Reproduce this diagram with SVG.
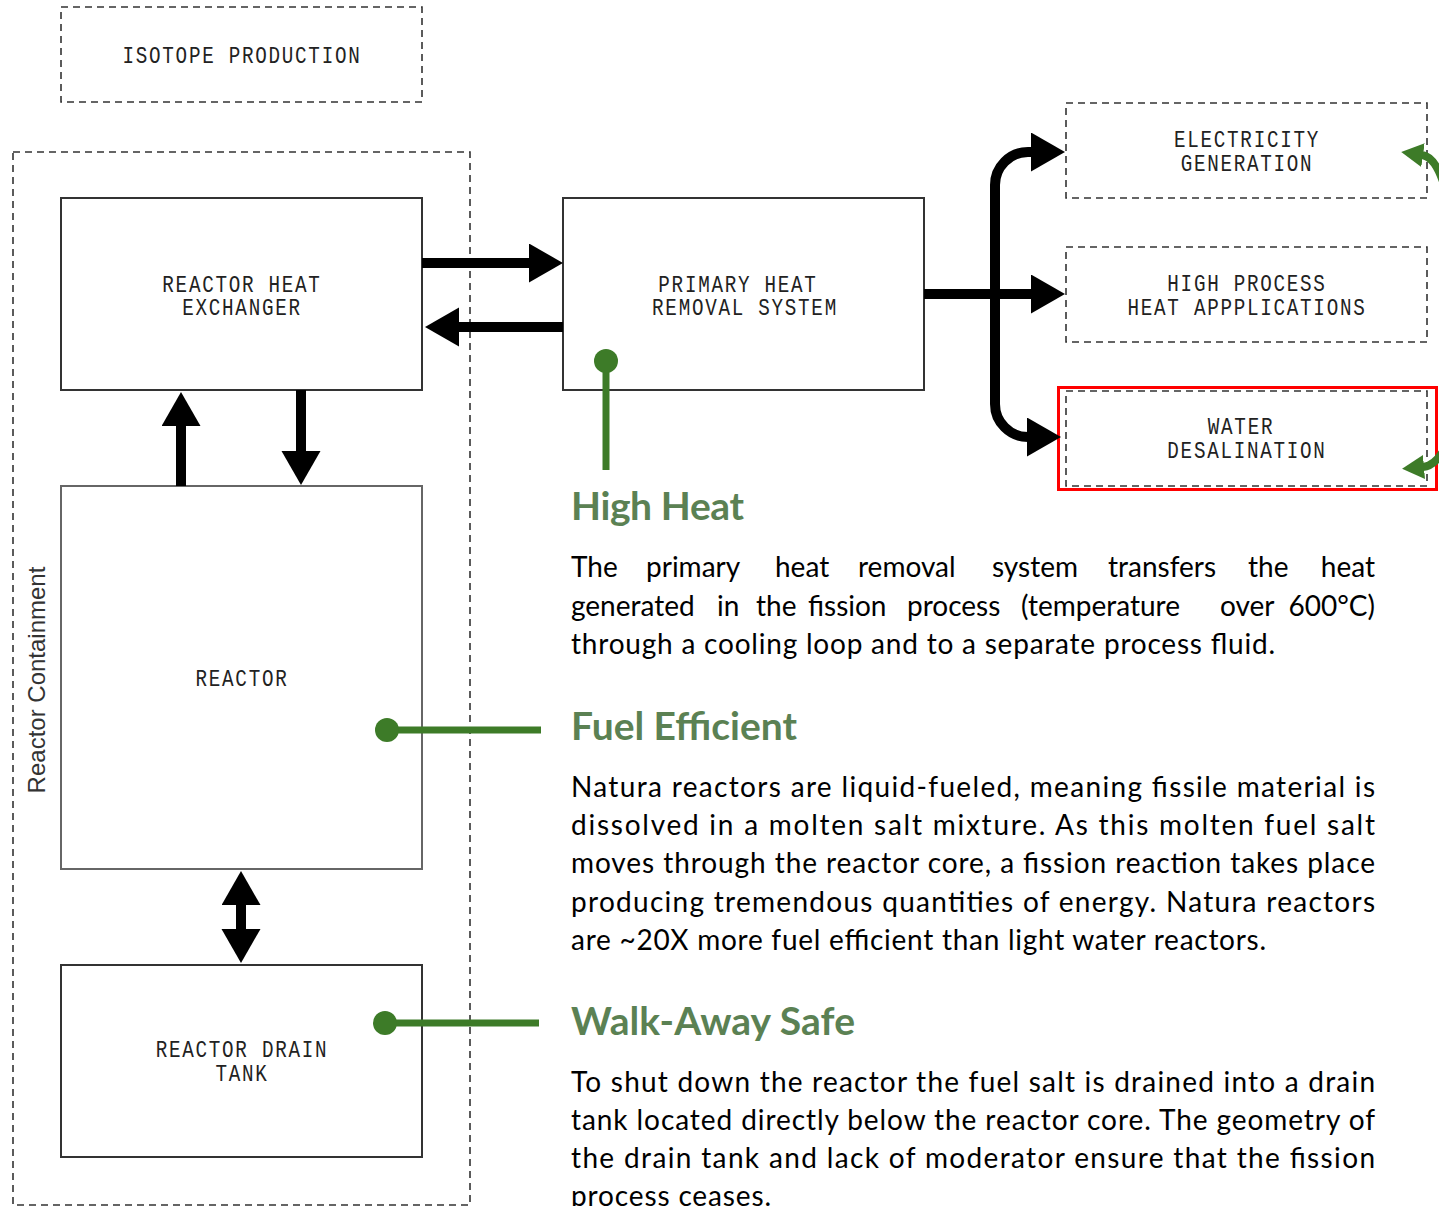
<svg xmlns="http://www.w3.org/2000/svg" width="1439" height="1206" viewBox="0 0 1439 1206">
<style>
.bg{fill:#fff}
.solid{fill:#fff;stroke:#333;stroke-width:2}
.solid2{fill:#fff;stroke:#666;stroke-width:2}
.dash{fill:none;stroke:#333;stroke-width:1.6;stroke-dasharray:7 5}
.lbl{font-family:"Liberation Mono","DejaVu Sans Mono",monospace;font-size:23.5px;letter-spacing:2.1px;fill:#222;text-anchor:middle}
.side{font-family:"Liberation Sans",Arial,sans-serif;font-size:24px;fill:#333;text-anchor:middle}
.conn{fill:none;stroke:#000;stroke-width:10}
.pin{fill:none;stroke:#3d7b28;stroke-width:7}
.dot{fill:#3d7b28}
.garr{fill:none;stroke:#3d7b28;stroke-width:8}
.hd{font-family:Lato,"Open Sans",sans-serif;font-weight:bold;font-size:39px;fill:#5b8153}
.body{font-family:Lato,"Open Sans",sans-serif;font-size:28px;fill:#000}
.end{text-anchor:end}
</style>
<defs>
<marker id="ah" markerUnits="userSpaceOnUse" markerWidth="36" markerHeight="40" refX="1" refY="19.5" orient="auto-start-reverse" viewBox="0 0 36 40">
<path d="M0,0 L34,19.5 L0,39 Z" fill="#000"/>
</marker>
<marker id="gh" markerUnits="userSpaceOnUse" markerWidth="24" markerHeight="26" refX="1" refY="12" orient="auto" viewBox="0 0 24 26">
<path d="M0,0 L22,12 L0,24 Z" fill="#3d7b28"/>
</marker>
</defs>
<rect class="bg" x="0" y="0" width="1439" height="1206"/>

<g id="isotope-production">
<rect class="dash" x="61" y="7" width="361" height="95"/>
<text class="lbl" transform="translate(242,62.5) scale(0.82,1)">ISOTOPE PRODUCTION</text>
</g>

<g id="reactor-containment">
<rect class="dash" x="13" y="152" width="457" height="1053"/>
<text class="side" transform="translate(45,680) rotate(-90)">Reactor Containment</text>
</g>

<g id="reactor-heat-exchanger">
<rect class="solid" x="61" y="198" width="361" height="192"/>
<text class="lbl" transform="translate(242,291.5) scale(0.82,1)">REACTOR HEAT</text>
<text class="lbl" transform="translate(242,315) scale(0.82,1)">EXCHANGER</text>
</g>

<g id="reactor">
<rect class="solid2" x="61" y="486" width="361" height="383"/>
<text class="lbl" transform="translate(242,686) scale(0.82,1)">REACTOR</text>
</g>

<g id="reactor-drain-tank">
<rect class="solid" x="61" y="965" width="361" height="192"/>
<text class="lbl" transform="translate(242,1057) scale(0.82,1)">REACTOR DRAIN</text>
<text class="lbl" transform="translate(242,1081) scale(0.82,1)">TANK</text>
</g>

<g id="primary-heat-removal-system">
<rect class="solid" x="563" y="198" width="361" height="192"/>
<text class="lbl" transform="translate(738,291.5) scale(0.82,1)">PRIMARY HEAT</text>
<text class="lbl" transform="translate(745,315) scale(0.82,1)">REMOVAL SYSTEM</text>
</g>

<g id="electricity-generation">
<rect class="dash" x="1066" y="103" width="361" height="95"/>
<text class="lbl" transform="translate(1247,147) scale(0.82,1)">ELECTRICITY</text>
<text class="lbl" transform="translate(1247,171) scale(0.82,1)">GENERATION</text>
</g>

<g id="high-process-heat">
<rect class="dash" x="1066" y="247" width="361" height="95"/>
<text class="lbl" transform="translate(1247,291) scale(0.82,1)">HIGH PROCESS</text>
<text class="lbl" transform="translate(1247,315) scale(0.82,1)">HEAT APPPLICATIONS</text>
</g>

<g id="water-desalination">
<rect class="dash" x="1066" y="391" width="361" height="95"/>
<rect x="1058.5" y="387.5" width="378" height="102" fill="none" stroke="#f00" stroke-width="3"/>
<text class="lbl" transform="translate(1241,434) scale(0.82,1)">WATER</text>
<text class="lbl" transform="translate(1247,458) scale(0.82,1)">DESALINATION</text>
</g>

<g id="connectors">
<path class="conn" d="M422,263 H530" marker-end="url(#ah)"/>
<path class="conn" d="M563,327 H458" marker-end="url(#ah)"/>
<path class="conn" d="M181,486 V425" marker-end="url(#ah)"/>
<path class="conn" d="M301,390 V452" marker-end="url(#ah)"/>
<path class="conn" d="M241,904 V930" marker-start="url(#ah)" marker-end="url(#ah)"/>
<path class="conn" d="M924,294 H1032" marker-end="url(#ah)"/>
<path class="conn" d="M995,300 V185 A33,33 0 0 1 1028,152 H1032" marker-end="url(#ah)"/>
<path class="conn" d="M995,290 V404 A33,33 0 0 0 1028,437 H1028" marker-end="url(#ah)"/>
<path class="pin" d="M606,361 V470"/>
<circle class="dot" cx="606" cy="361" r="12"/>
<path class="pin" d="M387,730 H541"/>
<circle class="dot" cx="387" cy="730" r="12"/>
<path class="pin" d="M385,1023 H539"/>
<circle class="dot" cx="385" cy="1023" r="12"/>
<path class="garr" d="M1445,188 Q1436,157 1422,155" marker-end="url(#gh)"/>
<path class="garr" d="M1445,448 Q1435,466 1423,467" marker-end="url(#gh)"/>
</g>

<g id="text-high-heat">
<text class="hd" x="571" y="520" textLength="173" lengthAdjust="spacing">High Heat</text>
<text class="body" y="577"><tspan x="571">The</tspan><tspan x="646">primary</tspan><tspan x="775">heat</tspan><tspan x="858">removal</tspan><tspan x="992">system</tspan><tspan x="1108">transfers</tspan><tspan x="1248">the</tspan></text>
<text class="body end" x="1375" y="577">heat</text>
<text class="body" y="615.5"><tspan x="571">generated</tspan><tspan x="717">in</tspan><tspan x="756">the</tspan><tspan x="808">fission</tspan><tspan x="907">process</tspan><tspan x="1021">(temperature</tspan><tspan x="1220">over</tspan></text>
<text class="body end" x="1375" y="615.5">600°C)</text>
<text class="body" x="571" y="654" textLength="704" lengthAdjust="spacing">through a cooling loop and to a separate process fluid.</text>
</g>

<g id="text-fuel-efficient">
<text class="hd" x="571" y="740" textLength="226" lengthAdjust="spacing">Fuel Efficient</text>
<text class="body" x="571" y="797" textLength="804" lengthAdjust="spacing">Natura reactors are liquid-fueled, meaning fissile material is</text>
<text class="body" x="571" y="835" textLength="804" lengthAdjust="spacing">dissolved in a molten salt mixture. As this molten fuel salt</text>
<text class="body" x="571" y="873" textLength="804" lengthAdjust="spacing">moves through the reactor core, a fission reaction takes place</text>
<text class="body" x="571" y="912" textLength="804" lengthAdjust="spacing">producing tremendous quantities of energy. Natura reactors</text>
<text class="body" x="571" y="950" textLength="695" lengthAdjust="spacing">are ~20X more fuel efficient than light water reactors.</text>
</g>

<g id="text-walk-away-safe">
<text class="hd" x="571" y="1035" textLength="284" lengthAdjust="spacing">Walk-Away Safe</text>
<text class="body" x="571" y="1092" textLength="804" lengthAdjust="spacing">To shut down the reactor the fuel salt is drained into a drain</text>
<text class="body" x="571" y="1130" textLength="804" lengthAdjust="spacing">tank located directly below the reactor core. The geometry of</text>
<text class="body" x="571" y="1168" textLength="804" lengthAdjust="spacing">the drain tank and lack of moderator ensure that the fission</text>
<text class="body" x="571" y="1206" textLength="200" lengthAdjust="spacing">process ceases.</text>
</g>
</svg>
